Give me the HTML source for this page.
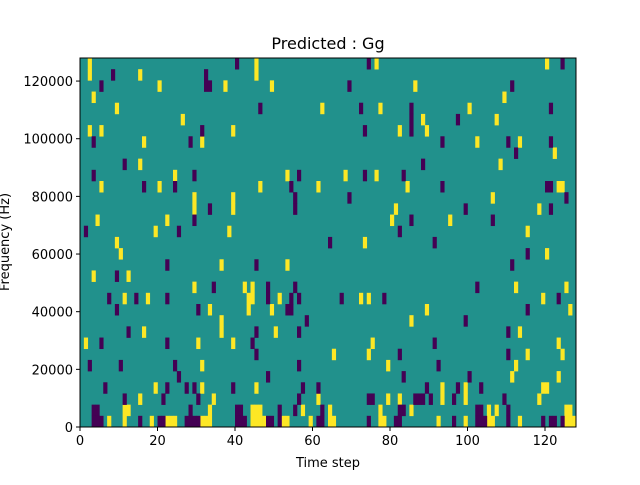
<!DOCTYPE html>
<html><head><meta charset="utf-8"><style>
body{margin:0;background:#fff;font-family:"Liberation Sans","DejaVu Sans",sans-serif}
svg text{font-family:"DejaVu Sans","Liberation Sans",sans-serif}
</style></head><body>
<svg id="chart" width="640" height="480" xmlns="http://www.w3.org/2000/svg">
<rect width="640" height="480" fill="#fff"/>
<text x="328" y="49" font-size="16" text-anchor="middle">Predicted : Gg</text>
<g id="cells"></g>
<g id="axes"></g>
<text x="328" y="467" font-size="13" text-anchor="middle">Time step</text>
<text transform="translate(9,242) rotate(-90)" font-size="13" text-anchor="middle">Frequency (Hz)</text>
</svg>
<script>
const nCols = 128;
const nRows = 33;
const xTicks = [0,20,40,60,80,100,120];
const yTicks = [0,20000,40000,60000,80000,100000,120000];
const yMax = 128000;
// [timeStep, rowFromTop]
const yellowCells = [[2,0],[45,0],[76,0],[120,0],[2,1],[15,1],[45,1],[20,2],[37,2],[49,2],[86,2],[3,3],[109,3],[9,4],[62,4],[77,4],[100,4],[26,5],[88,5],[107,5],[2,6],[5,6],[39,6],[82,6],[89,6],[16,7],[31,7],[102,7],[113,7],[122,8],[15,9],[108,9],[24,10],[53,10],[68,10],[76,10],[5,11],[20,11],[46,11],[61,11],[84,11],[123,11],[124,11],[29,12],[39,12],[106,12],[29,13],[39,13],[81,13],[118,13],[4,14],[22,14],[80,14],[95,14],[19,15],[38,15],[115,15],[9,16],[73,16],[10,17],[120,17],[36,18],[53,18],[3,19],[12,19],[29,20],[42,20],[44,20],[112,20],[125,20],[11,21],[17,21],[43,21],[44,21],[51,21],[72,21],[74,21],[119,21],[33,22],[43,22],[49,22],[89,22],[126,22],[36,23],[85,23],[16,24],[36,24],[50,24],[113,24],[1,25],[30,25],[39,25],[75,25],[123,25],[65,26],[74,26],[115,26],[124,26],[31,27],[79,27],[112,27],[111,28],[123,28],[19,29],[31,29],[45,29],[93,29],[99,29],[119,29],[120,29],[15,30],[34,30],[61,30],[79,30],[82,30],[93,30],[99,30],[118,30],[11,31],[12,31],[33,31],[44,31],[45,31],[46,31],[57,31],[64,31],[77,31],[85,31],[105,31],[107,31],[125,31],[126,31],[7,32],[11,32],[18,32],[22,32],[23,32],[24,32],[31,32],[32,32],[33,32],[44,32],[45,32],[46,32],[47,32],[52,32],[53,32],[59,32],[64,32],[65,32],[77,32],[78,32],[92,32],[99,32],[105,32],[106,32],[113,32],[125,32],[126,32],[127,32]];
const purpleCells = [[40,0],[74,0],[124,0],[8,1],[32,1],[5,2],[32,2],[33,2],[69,2],[111,2],[46,4],[72,4],[85,4],[121,4],[85,5],[97,5],[31,6],[73,6],[85,6],[3,7],[28,7],[93,7],[110,7],[121,7],[112,8],[11,9],[88,9],[3,10],[29,10],[56,10],[73,10],[83,10],[16,11],[24,11],[54,11],[93,11],[120,11],[121,11],[55,12],[69,12],[125,12],[33,13],[55,13],[99,13],[121,13],[29,14],[85,14],[106,14],[1,15],[25,15],[82,15],[64,16],[91,16],[115,17],[22,18],[45,18],[111,18],[9,19],[34,20],[48,20],[55,20],[102,20],[7,21],[14,21],[22,21],[48,21],[54,21],[56,21],[67,21],[78,21],[123,21],[9,22],[30,22],[53,22],[54,22],[115,22],[58,23],[99,23],[12,24],[45,24],[56,24],[110,24],[5,25],[22,25],[44,25],[91,25],[45,26],[82,26],[110,26],[2,27],[10,27],[24,27],[56,27],[92,27],[25,28],[48,28],[83,28],[100,28],[6,29],[22,29],[27,29],[29,29],[39,29],[57,29],[61,29],[89,29],[97,29],[103,29],[11,30],[21,30],[30,30],[56,30],[74,30],[75,30],[86,30],[87,30],[88,30],[90,30],[96,30],[109,30],[3,31],[4,31],[28,31],[40,31],[41,31],[51,31],[55,31],[62,31],[82,31],[83,31],[102,31],[103,31],[110,31],[3,32],[4,32],[5,32],[15,32],[20,32],[21,32],[27,32],[28,32],[29,32],[30,32],[40,32],[41,32],[42,32],[48,32],[49,32],[51,32],[61,32],[62,32],[74,32],[81,32],[82,32],[96,32],[102,32],[103,32],[104,32],[110,32],[119,32],[121,32],[122,32],[124,32]];

const NS = "http://www.w3.org/2000/svg";
const L = 80, R = 576, T = 58, B = 427;
const cw = (R - L) / nCols, ch = (B - T) / nRows;
const xPos = t => L + t * (R - L) / nCols;
const rowPos = r => T + r * ch;
const yPos = v => B - v / yMax * (B - T);
const cells = document.getElementById('cells');
const axes = document.getElementById('axes');
function mk(tag, attrs, parent) { const e = document.createElementNS(NS, tag); for (const k in attrs) e.setAttribute(k, attrs[k]); parent.appendChild(e); return e; }
const bg = mk('rect', {x: L, y: T, width: R - L, height: B - T, fill: '#21918c'}, cells);


yellowCells.forEach(c => {
  const e = mk('rect', {x: xPos(c[0]), y: rowPos(c[1]), width: cw + 0.3, height: ch + 0.3, fill: '#fde725'}, cells);
  
  
});
purpleCells.forEach(c => {
  const e = mk('rect', {x: xPos(c[0]), y: rowPos(c[1]), width: cw + 0.3, height: ch + 0.3, fill: '#440154'}, cells);
  
  
});
const frame = mk('rect', {x: L, y: T, width: R - L, height: B - T, fill: 'none', stroke: '#000', 'stroke-width': 1}, axes);


xTicks.forEach(v => {
  const x = xPos(v);
  mk('line', {x1: x, y1: B, x2: x, y2: B + 4, stroke: '#000'}, axes);
  const t = mk('text', {x: x, y: B + 18, 'font-size': 13, 'text-anchor': 'middle'}, axes);
  t.textContent = v;
  
  
});
yTicks.forEach(v => {
  const y = yPos(v);
  mk('line', {x1: L - 4, y1: y, x2: L, y2: y, stroke: '#000'}, axes);
  const t = mk('text', {x: L - 7, y: y + 5, 'font-size': 13, 'text-anchor': 'end'}, axes);
  t.textContent = v;
  
  
});
</script>
</body></html>
